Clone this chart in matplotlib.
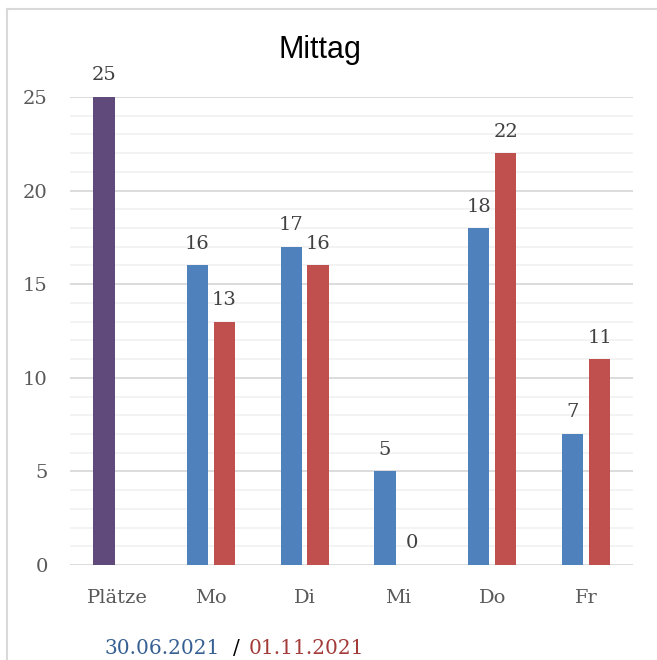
import numpy as np
import matplotlib.pyplot as plt
from matplotlib.lines import Line2D

categories = ['Plätze', 'Mo', 'Di', 'Mi', 'Do', 'Fr']
plaetze = [25]
serie_0630 = [16, 17, 5, 18, 7]
serie_1101 = [13, 16, 0, 22, 11]

purple = '#604A7B'
blue = '#4F81BD'
red = '#C0504D'
label_col = '#404040'
serif = 'DejaVu Serif'

fig = plt.figure(figsize=(6.57, 6.6), dpi=100)
ax = fig.add_axes([70/657, 95/660, 563/657, 468/660])

x = np.arange(len(categories))
w = 0.225
off = 0.143

b0 = ax.bar(x[:1] - 0.133, plaetze, width=0.234, color=purple)
b1 = ax.bar(x[1:] - off, serie_0630, width=w, color=blue)
b2 = ax.bar(x[1:] + off, serie_1101, width=w, color=red)

for bars, vals in [(b0, plaetze), (b1, serie_0630), (b2, serie_1101)]:
    for rect, v in zip(bars, vals):
        ax.annotate(str(v), (rect.get_x() + rect.get_width()/2, v),
                    xytext=(0, 9), textcoords='offset points',
                    ha='center', va='bottom', fontsize=14,
                    family=serif, color=label_col, clip_on=False)

ax.set_xlim(-0.5, len(categories) - 0.5)
ax.set_ylim(0, 25)
ax.set_yticks(range(0, 26, 5))
ax.set_yticks(range(0, 26), minor=True)
ax.grid(axis='y', which='major', color='#D9D9D9', linewidth=1.3)
ax.grid(axis='y', which='minor', color='#F2F2F2', linewidth=1.3)
ax.set_axisbelow(True)
for s in ax.spines.values():
    s.set_visible(False)
ax.tick_params(axis='both', which='both', length=0)
ax.tick_params(axis='y', pad=16)
ax.tick_params(axis='x', pad=17)
ax.set_xticks(x)
ax.set_xticklabels(categories)
for lab in ax.get_xticklabels() + ax.get_yticklabels():
    lab.set_family(serif)
    lab.set_fontsize(14)
    lab.set_color('#595959')

fig.text(320/657, 1 - 50/660, 'Mittag', ha='center', va='center',
         fontsize=22, family='Liberation Sans', color='black')

# Datumszeile unten
fig.text(105/657, 2/660, '30.06.2021', ha='left', va='bottom',
         fontsize=14.5, family=serif, color='#376092')
fig.text(233/657, 2/660, '/', ha='left', va='bottom',
         fontsize=14.5, family=serif, color='black')
fig.text(249/657, 2/660, '01.11.2021', ha='left', va='bottom',
         fontsize=14.5, family=serif, color='#A33B38')

# Rahmen
bx, by = 7/657, 1 - 9/660
fig.add_artist(Line2D([bx, 1.01], [by, by], color='#D9D9D9', linewidth=1.5))
fig.add_artist(Line2D([bx, bx], [-0.01, by], color='#D9D9D9', linewidth=1.5))

fig.savefig('out.png', dpi=100)
